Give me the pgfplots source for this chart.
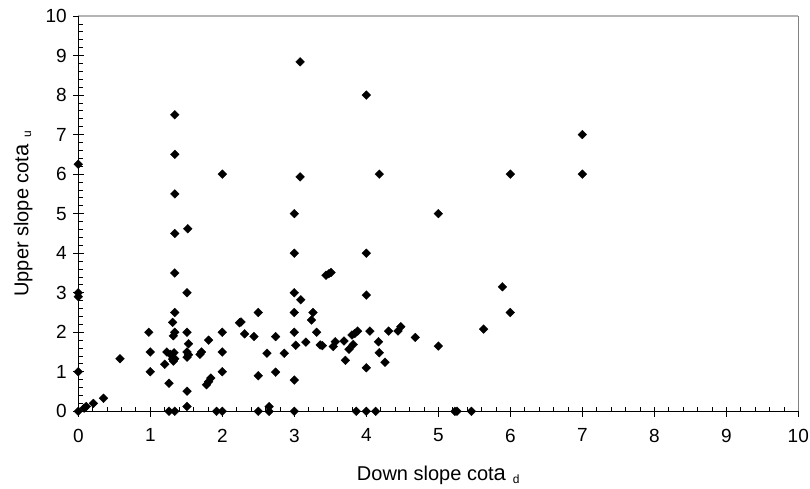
\documentclass[border=0pt]{standalone}
\usepackage{fontspec}
\setmainfont{Liberation Sans}
\usepackage{pgfplots}
\pgfplotsset{compat=1.18}
\definecolor{topgray}{RGB}{180,180,180}
\definecolor{rightgray}{RGB}{130,130,130}
\begin{document}
\begin{tikzpicture}
\useasboundingbox (-78.3pt,-76.7pt) rectangle (731.7pt,411.3pt);
\begin{axis}[
  at={(0pt,0pt)}, anchor=south west,
  scale only axis, width=720pt, height=395.3pt,
  xmin=0, xmax=10, ymin=0, ymax=10,
  xtick={0,1,...,10}, ytick={0,1,...,10},
  minor tick num=4,
  xtick pos=bottom, ytick pos=left,
  tick align=inside,
  major tick length=10.5pt, minor tick length=4.5pt,
  every major x tick/.append style={yshift=-6pt},
  every major y tick/.append style={xshift=-5pt},
  every tick/.append style={black, line width=0.8pt},
  axis line style={draw=none},
  clip=false,
  /pgf/number format/assume math mode=true,
  tick label style={font=\fontsize{19}{22}\selectfont},
  xticklabel style={yshift=-14pt},
  yticklabel style={xshift=-8pt},
  label style={font=\fontsize{20}{23}\selectfont},
  xlabel={Down slope cot{\fontsize{22}{24}\selectfont a}\hspace{0.35em}{\fontsize{12}{14}\selectfont\raisebox{-0.45ex}{d}}},
  ylabel={Upper slope cot{\fontsize{22}{24}\selectfont a}\hspace{0.35em}{\fontsize{12}{14}\selectfont\raisebox{-0.45ex}{u}}},
  xlabel style={at={(axis description cs:0.5,-0.1755)}, anchor=base},
  ylabel style={at={(axis description cs:-0.0694,0.5)}, anchor=base},
]
\draw[topgray, line width=1.2pt] (axis cs:0,10) -- (axis cs:10,10);
\draw[rightgray, line width=0.8pt] (axis cs:10,10) -- (axis cs:10,0);
\draw[black, line width=1pt] (axis cs:0,10) -- (axis cs:0,0) -- (axis cs:10,0);
\addplot[only marks, mark=square*, mark size=3.1pt, mark options={rotate=45, fill=black, draw=black, line width=0.3pt}] coordinates {
(0,6.25) (0,3.0) (0,2.9) (0,1.0) (0,0)
(0.08,0.08) (0.11,0.12) (0.21,0.2) (0.35,0.33) (0.58,1.33)
(0.98,2.0) (1.0,1.5) (1.0,1.0) (1.2,1.19) (1.26,0.71) (1.23,1.5)
(1.31,2.25) (1.34,2.5) (1.34,2.0) (1.32,1.91) (1.28,1.44) (1.33,1.48)
(1.31,1.32) (1.34,1.33) (1.32,1.27) (1.34,3.5) (1.34,4.5) (1.34,5.5)
(1.34,6.5) (1.34,7.5) (1.26,0) (1.34,0)
(1.51,2.0) (1.53,1.71) (1.51,1.5) (1.53,1.43) (1.51,1.37) (1.51,0.51)
(1.51,0.12) (1.51,3.0) (1.52,4.62)
(1.69,1.44) (1.71,1.5) (1.81,1.8) (1.78,0.67) (1.81,0.75) (1.84,0.84)
(1.92,0) (2.0,0) (2.0,1.0) (2.0,1.5) (2.0,2.0) (2.0,6.0)
(2.24,2.24) (2.26,2.26) (2.31,1.96) (2.44,1.89) (2.5,2.5) (2.5,0.9) (2.5,0)
(2.62,1.47) (2.65,0.12) (2.65,0) (2.74,1.89) (2.74,0.99) (2.86,1.47)
(3.0,2.5) (3.0,2.0) (3.02,1.67) (3.0,0.79) (3.0,0) (3.0,3.0) (3.0,4.0) (3.0,5.0)
(3.08,5.93) (3.08,8.84) (3.09,2.82) (3.16,1.75) (3.24,2.31) (3.26,2.5)
(3.31,2.0) (3.36,1.68) (3.39,1.66) (3.44,3.44) (3.48,3.48) (3.51,3.51)
(3.54,1.64) (3.57,1.76) (3.69,1.78) (3.71,1.29) (3.76,1.57) (3.82,1.69)
(3.8,1.93) (3.84,1.97) (3.88,2.03) (3.86,0) (4.0,0) (4.13,0)
(4.0,1.1) (4.05,2.03) (4.0,2.94) (4.0,4.0) (4.0,8.0)
(4.17,1.76) (4.18,1.48) (4.26,1.24) (4.18,6.0) (4.31,2.03) (4.44,2.03)
(4.48,2.14) (4.68,1.87) (5.0,1.65) (5.0,5.0) (5.23,0) (5.26,0) (5.46,0)
(5.63,2.08) (5.89,3.15) (6.0,2.5) (6.0,6.0) (7.0,7.0) (7.0,6.0)
};
\end{axis}
\end{tikzpicture}
\end{document}
